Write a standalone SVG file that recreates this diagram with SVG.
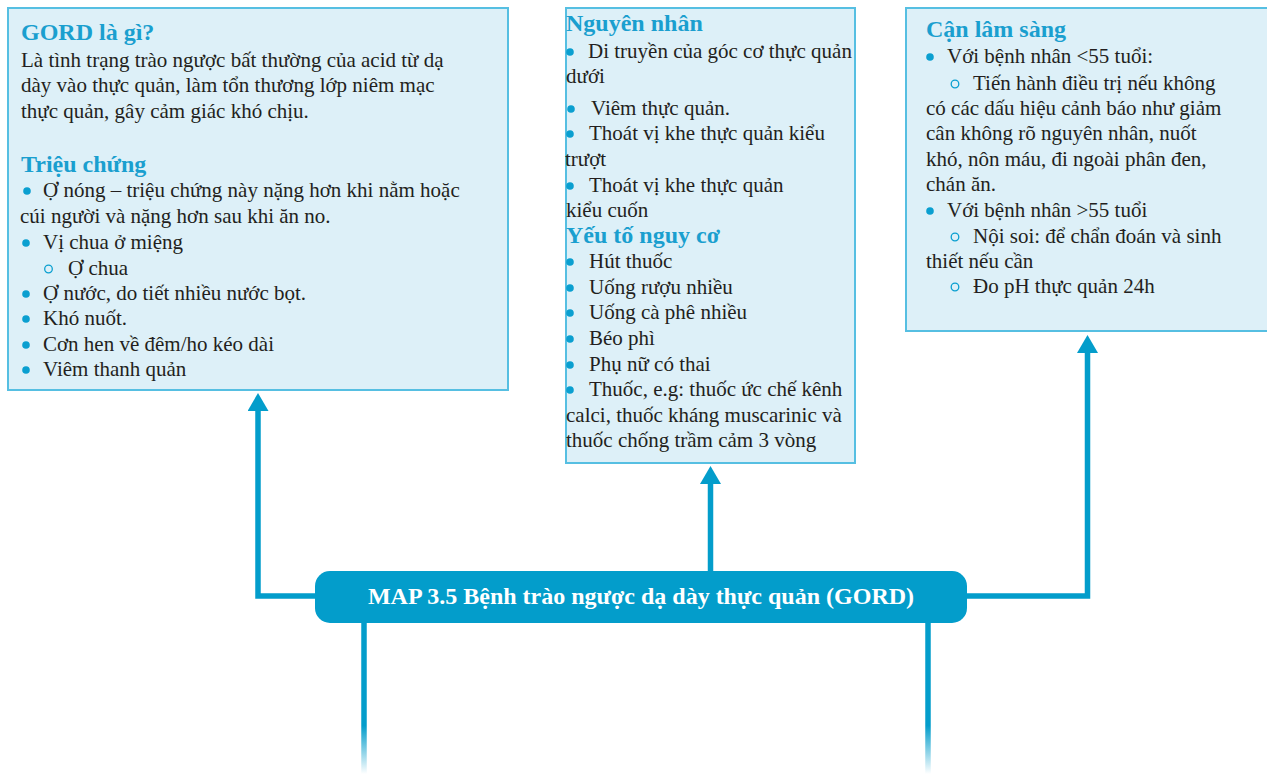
<svg xmlns="http://www.w3.org/2000/svg" width="1267" height="774" viewBox="0 0 1267 774">
  <defs>
    <style>
      .box { fill: #ddf0f8; stroke: #56bfe2; stroke-width: 2; }
      .head { font-family: "Liberation Serif", "Times New Roman", serif; font-weight: bold; font-size: 24px; fill: #1a9fcf; }
      .txt { font-family: "Liberation Serif", "Times New Roman", serif; font-size: 21px; fill: #231f20; }
      .dot { fill: #0a9fd0; }
      .ring { fill: none; stroke: #0a9fd0; stroke-width: 1.3; }
      .link { fill: none; stroke: #039dcb; stroke-width: 5.5; }
      .title { font-family: "Liberation Serif", "Times New Roman", serif; font-weight: bold; font-size: 24px; fill: #ffffff; }
    </style>
    <marker id="arrow" viewBox="0 0 18 21" refX="1" refY="10.5" markerWidth="18" markerHeight="21" markerUnits="userSpaceOnUse" orient="auto">
      <path d="M0,0 L18,10.5 L0,21 Z" fill="#039dcb"/>
    </marker>
    <linearGradient id="fade" gradientUnits="userSpaceOnUse" x1="0" y1="623" x2="0" y2="774">
      <stop offset="0.68" stop-color="#039dcb" stop-opacity="1"/>
      <stop offset="1" stop-color="#039dcb" stop-opacity="0"/>
    </linearGradient>
  </defs>

  <rect width="1267" height="774" fill="#ffffff"/>

  <!-- connectors -->
  <g id="connectors">
    <path class="link" d="M316 596 H258 V410" marker-end="url(#arrow)"/>
    <path class="link" d="M710.5 571 V483" marker-end="url(#arrow)"/>
    <path class="link" d="M967 596 H1087.5 V352" marker-end="url(#arrow)"/>
    <path d="M364 622 V774" fill="none" stroke="url(#fade)" stroke-width="5.5"/>
    <path d="M928 622 V774" fill="none" stroke="url(#fade)" stroke-width="5.5"/>
  </g>

  <!-- definition and symptoms -->
  <g id="node-definition">
    <rect class="box" x="8" y="8" width="500" height="382"/>
    <text class="head" x="21" y="40">GORD là gì?</text>
    <text class="txt" x="21" y="67">Là tình trạng trào ngược bất thường của acid từ dạ</text>
    <text class="txt" x="21" y="92">dày vào thực quản, làm tổn thương lớp niêm mạc</text>
    <text class="txt" x="21" y="118">thực quản, gây cảm giác khó chịu.</text>
    <text class="head" x="21" y="172">Triệu chứng</text>
    <circle class="dot" cx="27" cy="191" r="3.8"/>
    <text class="txt" x="43" y="197">Ợ nóng – triệu chứng này nặng hơn khi nằm hoặc</text>
    <text class="txt" x="20" y="223">cúi người và nặng hơn sau khi ăn no.</text>
    <circle class="dot" cx="26" cy="243" r="3.8"/>
    <text class="txt" x="43" y="249">Vị chua ở miệng</text>
    <circle class="ring" cx="48.5" cy="269" r="3.8"/>
    <text class="txt" x="68" y="275">Ợ chua</text>
    <circle class="dot" cx="26" cy="294" r="3.8"/>
    <text class="txt" x="43" y="300">Ợ nước, do tiết nhiều nước bọt.</text>
    <circle class="dot" cx="26" cy="319" r="3.8"/>
    <text class="txt" x="43" y="325">Khó nuốt.</text>
    <circle class="dot" cx="26" cy="345" r="3.8"/>
    <text class="txt" x="43" y="351">Cơn hen về đêm/ho kéo dài</text>
    <circle class="dot" cx="26" cy="370" r="3.8"/>
    <text class="txt" x="43" y="376">Viêm thanh quản</text>
  </g>

  <!-- causes and risk factors -->
  <g id="node-causes">
    <rect class="box" x="566" y="8" width="289" height="455"/>
    <text class="head" x="566" y="31">Nguyên nhân</text>
    <circle class="dot" cx="570" cy="52" r="3.8"/>
    <text class="txt" x="588" y="58">Di truyền của góc cơ thực quản</text>
    <text class="txt" x="566" y="83">dưới</text>
    <circle class="dot" cx="571" cy="109" r="3.8"/>
    <text class="txt" x="591" y="115">Viêm thực quản.</text>
    <circle class="dot" cx="570" cy="134" r="3.8"/>
    <text class="txt" x="589" y="140">Thoát vị khe thực quản kiểu</text>
    <text class="txt" x="565" y="166">trượt</text>
    <circle class="dot" cx="570" cy="186" r="3.8"/>
    <text class="txt" x="589" y="192">Thoát vị khe thực quản</text>
    <text class="txt" x="566" y="217">kiểu cuốn</text>
    <text class="head" x="566" y="243">Yếu tố nguy cơ</text>
    <circle class="dot" cx="570" cy="262" r="3.8"/>
    <text class="txt" x="589" y="268">Hút thuốc</text>
    <circle class="dot" cx="570" cy="288" r="3.8"/>
    <text class="txt" x="589" y="294">Uống rượu nhiều</text>
    <circle class="dot" cx="570" cy="313" r="3.8"/>
    <text class="txt" x="589" y="319">Uống cà phê nhiều</text>
    <circle class="dot" cx="570" cy="339" r="3.8"/>
    <text class="txt" x="589" y="345">Béo phì</text>
    <circle class="dot" cx="570" cy="365" r="3.8"/>
    <text class="txt" x="589" y="371">Phụ nữ có thai</text>
    <circle class="dot" cx="570" cy="390" r="3.8"/>
    <text class="txt" x="589" y="396">Thuốc, e.g: thuốc ức chế kênh</text>
    <text class="txt" x="566" y="422">calci, thuốc kháng muscarinic và</text>
    <text class="txt" x="566" y="447">thuốc chống trầm cảm 3 vòng</text>
  </g>

  <!-- investigations -->
  <g id="node-investigations">
    <rect class="box" x="906" y="8" width="372" height="323"/>
    <text class="head" x="926" y="37">Cận lâm sàng</text>
    <circle class="dot" cx="930" cy="57" r="3.8"/>
    <text class="txt" x="947" y="63">Với bệnh nhân &lt;55 tuổi:</text>
    <circle class="ring" cx="955" cy="84" r="3.8"/>
    <text class="txt" x="973" y="90">Tiến hành điều trị nếu không</text>
    <text class="txt" x="926" y="115">có các dấu hiệu cảnh báo như giảm</text>
    <text class="txt" x="926" y="140">cân không rõ nguyên nhân, nuốt</text>
    <text class="txt" x="926" y="166">khó, nôn máu, đi ngoài phân đen,</text>
    <text class="txt" x="926" y="191">chán ăn.</text>
    <circle class="dot" cx="930" cy="211" r="3.8"/>
    <text class="txt" x="947" y="217">Với bệnh nhân &gt;55 tuổi</text>
    <circle class="ring" cx="955" cy="237" r="3.8"/>
    <text class="txt" x="973" y="243">Nội soi: để chẩn đoán và sinh</text>
    <text class="txt" x="926" y="268">thiết nếu cần</text>
    <circle class="ring" cx="955" cy="287" r="3.8"/>
    <text class="txt" x="973" y="293">Đo pH thực quản 24h</text>
  </g>

  <!-- central topic -->
  <g id="node-title">
    <rect x="315" y="571" width="652" height="52" rx="15" fill="#039dcb"/>
    <text class="title" x="641" y="604" text-anchor="middle">MAP 3.5 Bệnh trào ngược dạ dày thực quản (GORD)</text>
  </g>
</svg>
